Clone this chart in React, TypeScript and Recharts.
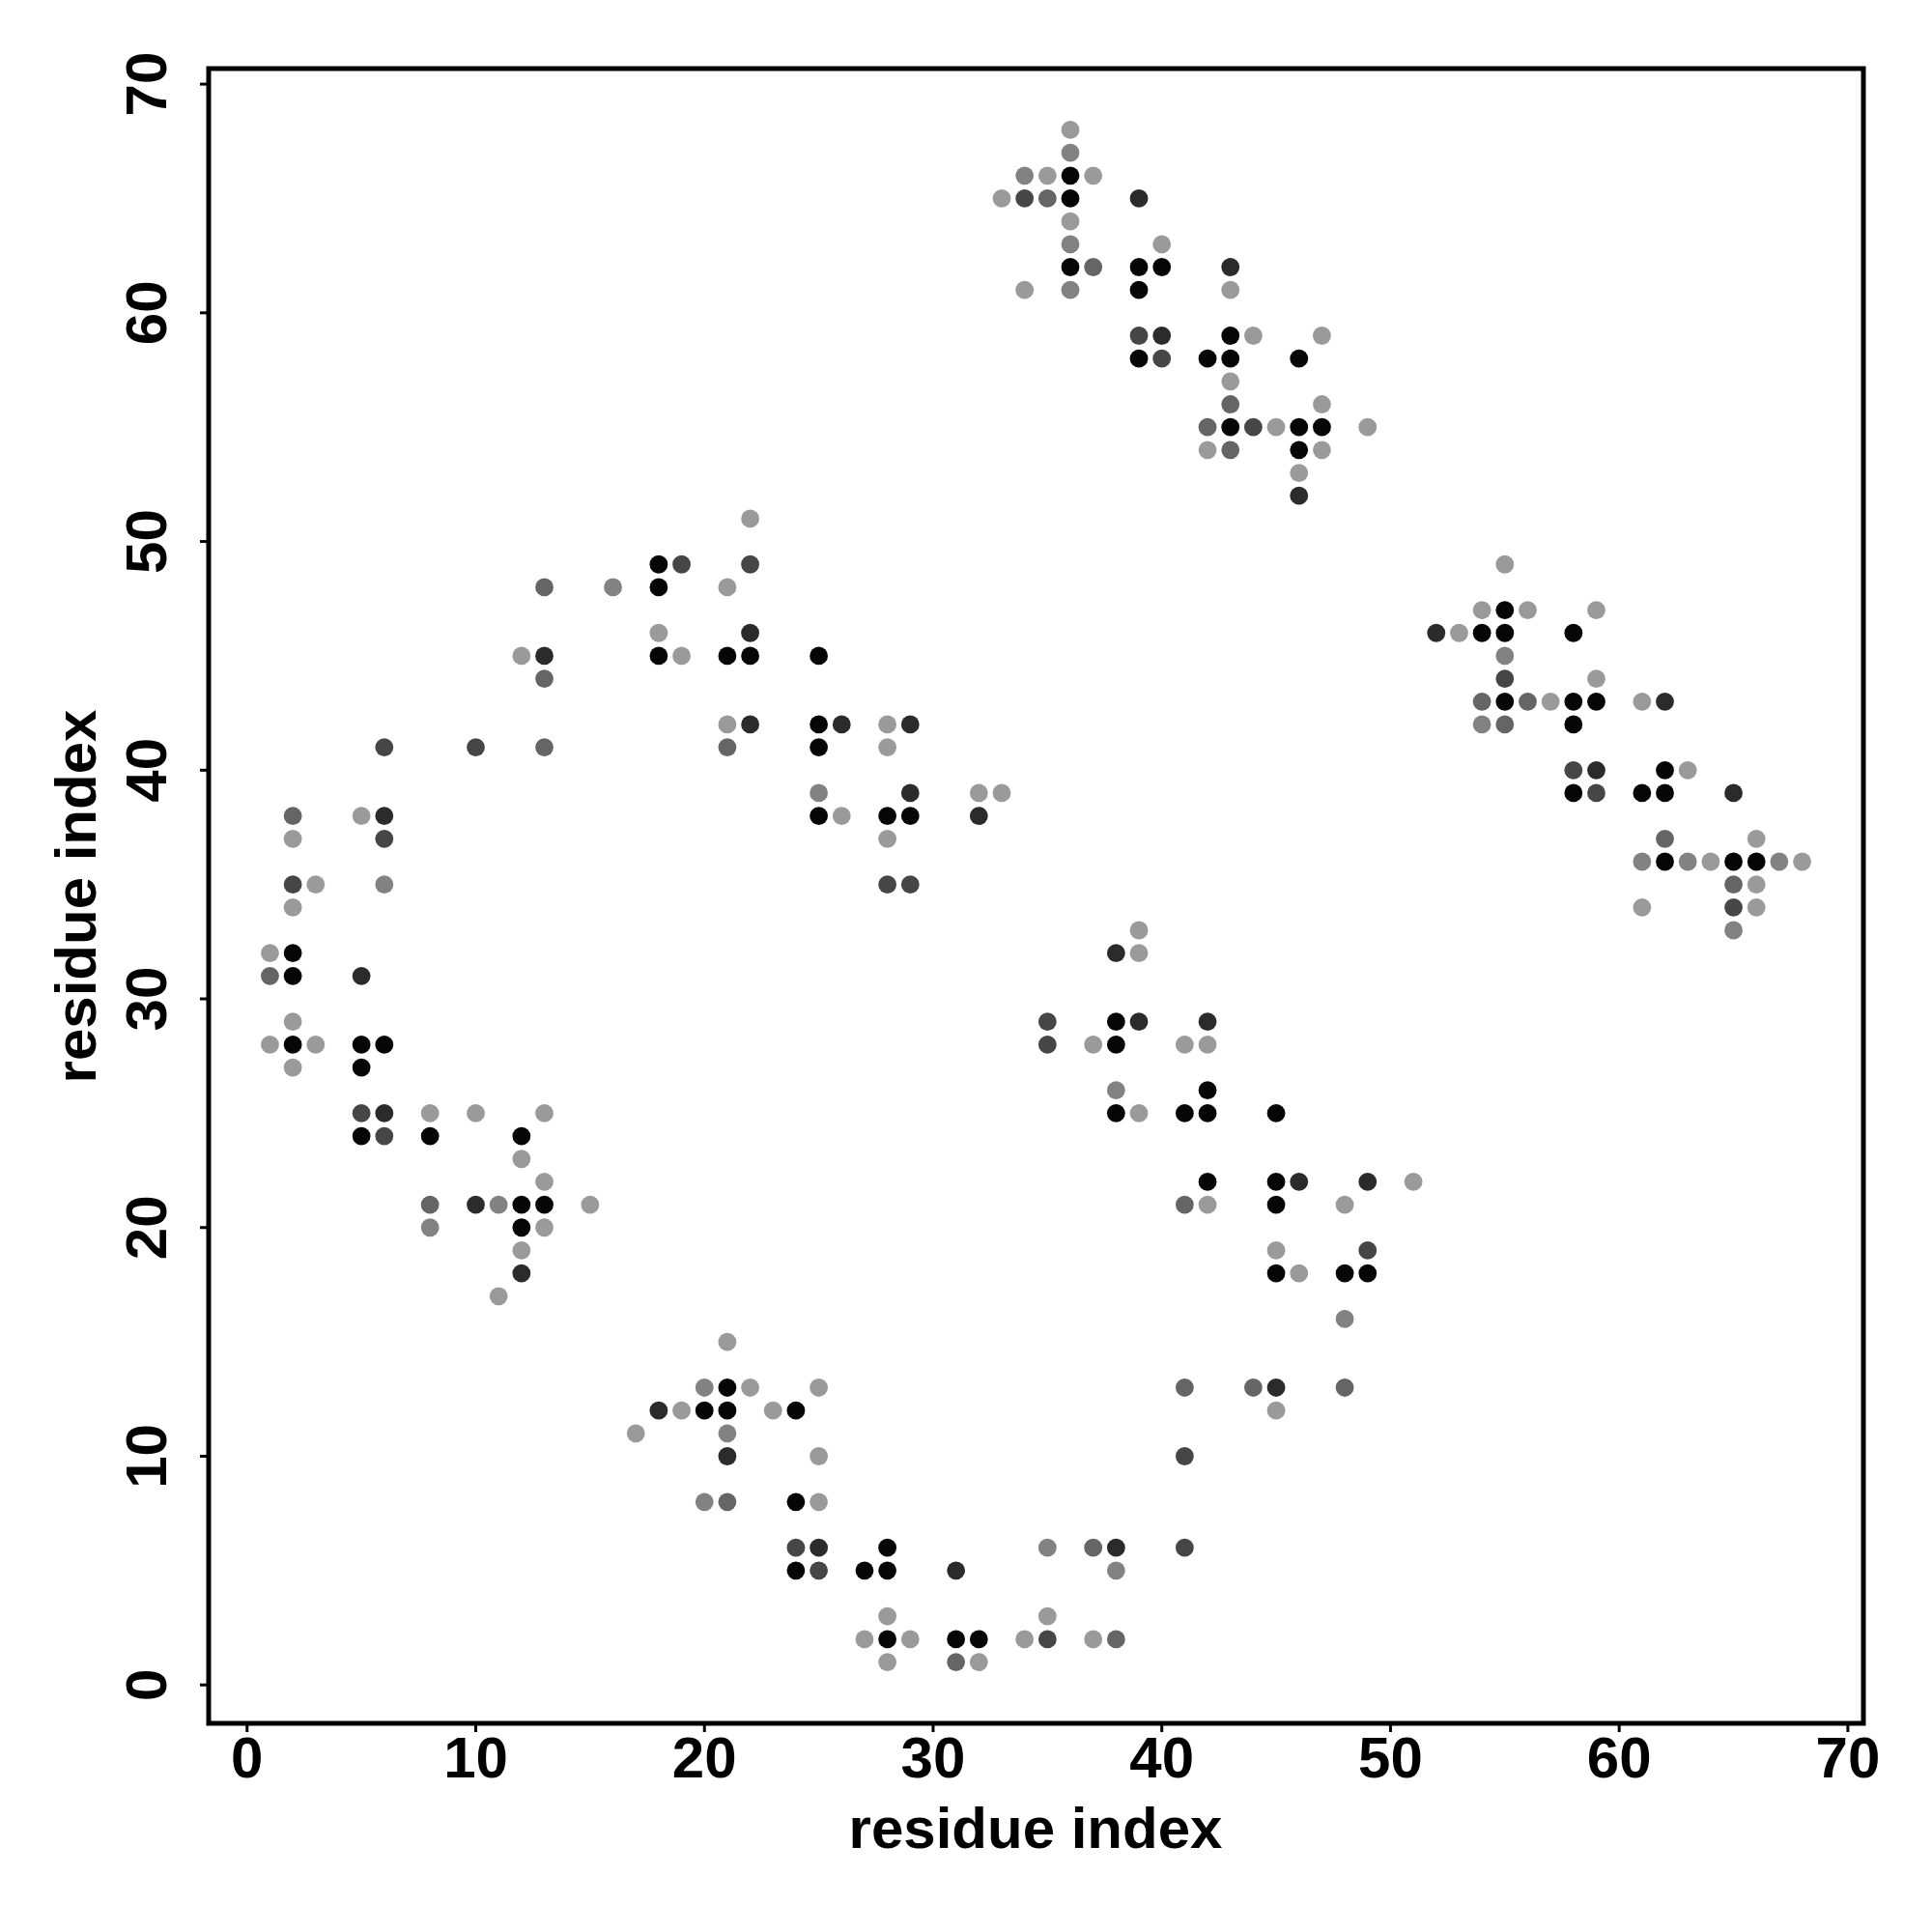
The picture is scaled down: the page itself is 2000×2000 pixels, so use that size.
import React from 'react';
import { ScatterChart, Scatter, XAxis, YAxis, ReferenceArea } from 'recharts';

// ---- tick labels / titles ----
const xTicks = [0, 10, 20, 30, 40, 50, 60, 70];
const yTicks = [0, 10, 20, 30, 40, 50, 60, 70];
const xTitle = 'residue index';
const yTitle = 'residue index';
const axisDomain: [number, number] = [-1.68, 70.68];

// ---- contact points grouped by grey level [residue i, residue j] ----
const blackPts: [number, number][] = [
  [2, 32], [2, 31], [2, 28], [5, 28], [6, 28], [5, 27], [5, 24], [8, 24], [12, 24],
  [12, 21], [13, 21], [12, 20],
  [18, 49], [18, 48], [18, 45], [21, 45], [22, 45], [25, 45], [25, 42], [25, 41],
  [25, 38], [28, 38], [29, 38],
  [21, 13], [20, 12], [21, 12], [24, 12], [24, 8], [28, 6], [24, 5], [27, 5], [28, 5],
  [28, 2], [31, 2], [32, 2],
  [38, 29], [38, 28], [42, 26], [38, 25], [41, 25], [42, 25], [45, 25], [42, 22], [45, 22],
  [45, 21], [45, 18], [48, 18], [49, 18],
  [36, 66], [36, 65], [36, 62], [39, 62], [40, 62], [39, 61], [43, 59], [39, 58], [42, 58],
  [43, 58], [46, 58], [43, 55], [46, 55], [47, 55], [46, 54],
  [55, 47], [54, 46], [55, 46], [58, 46], [55, 43], [58, 43], [59, 43], [58, 42], [62, 40],
  [58, 39], [61, 39], [62, 39], [62, 36], [65, 36], [66, 36],
];
const veryDarkPts: [number, number][] = [
  [6, 38], [5, 31], [6, 25], [10, 21], [12, 18],
  [22, 46], [13, 45], [22, 42], [26, 42], [29, 42], [29, 39], [32, 38],
  [18, 12], [21, 10], [25, 6], [38, 6], [31, 5],
  [38, 32], [39, 29], [42, 29], [46, 22], [49, 22], [45, 13],
  [39, 65], [43, 62], [40, 59], [46, 52],
  [52, 46], [62, 43], [59, 40], [65, 39],
];
const darkPts: [number, number][] = [
  [6, 41], [10, 41], [6, 37], [2, 35], [5, 25], [6, 24],
  [19, 49], [22, 49], [28, 35], [29, 35],
  [24, 6], [25, 5], [35, 2], [41, 10], [41, 6],
  [35, 29], [35, 28], [49, 19],
  [34, 65], [39, 59], [40, 58], [44, 55],
  [55, 44], [58, 40], [59, 39], [65, 34],
];
const midPts: [number, number][] = [
  [13, 41], [2, 38], [1, 31], [8, 21],
  [13, 48], [13, 44], [21, 41],
  [21, 8], [37, 6], [38, 2], [31, 1],
  [41, 21], [41, 13], [44, 13], [48, 13],
  [35, 65], [37, 62], [43, 56], [42, 55], [43, 54],
  [54, 43], [56, 43], [55, 42], [62, 37], [65, 35],
];
const midLightPts: [number, number][] = [
  [6, 35], [11, 21], [8, 20],
  [16, 48], [25, 39],
  [20, 13], [21, 11], [20, 8], [35, 6], [38, 5],
  [38, 26], [48, 16],
  [36, 67], [34, 66], [36, 63], [36, 61],
  [55, 45], [54, 42], [61, 36], [63, 36], [67, 36], [65, 33],
];
const lightPts: [number, number][] = [
  [5, 38], [2, 37], [3, 35], [2, 34], [1, 32], [2, 29], [1, 28], [3, 28], [2, 27],
  [8, 25], [10, 25], [13, 25], [12, 23], [13, 22], [15, 21], [13, 20], [12, 19], [11, 17],
  [22, 51], [21, 48], [18, 46], [12, 45], [19, 45], [21, 42], [28, 42], [28, 41],
  [32, 39], [33, 39], [26, 38], [28, 37],
  [21, 15], [22, 13], [25, 13], [19, 12], [23, 12], [17, 11], [25, 10], [25, 8],
  [28, 3], [35, 3], [27, 2], [29, 2], [34, 2], [37, 2], [28, 1], [32, 1],
  [39, 33], [39, 32], [37, 28], [41, 28], [42, 28], [39, 25], [51, 22], [42, 21], [48, 21],
  [45, 19], [46, 18], [45, 12],
  [36, 68], [35, 66], [37, 66], [33, 65], [36, 64], [40, 63], [34, 61], [43, 61],
  [44, 59], [47, 59], [43, 57], [47, 56], [45, 55], [49, 55], [42, 54], [47, 54], [46, 53],
  [55, 49], [54, 47], [56, 47], [59, 47], [53, 46], [59, 44], [57, 43], [61, 43], [63, 40],
  [66, 37], [64, 36], [68, 36], [66, 35], [61, 34], [66, 34],
];

const shadeColors = ['#060606', '#2b2b2b', '#464646', '#656565', '#828282', '#9a9a9a'];
const shadeGroups = [blackPts, veryDarkPts, darkPts, midPts, midLightPts, lightPts];

const FONT = '"Liberation Sans", Arial, Helvetica, sans-serif';

const makeDot = (color: string) => (props: any) => {
  const { cx, cy } = props;
  if (cx == null || cy == null) return <g />;
  return <circle cx={cx} cy={cy} r={9.4} fill={color} />;
};

const XTick = (props: any) => {
  const { x, payload } = props;
  return (
    <text x={x} y={1840} textAnchor="middle" fontFamily={FONT} fontWeight="bold" fontSize={60} fill="#000">
      {payload.value}
    </text>
  );
};

const YTick = (props: any) => {
  const { y, payload } = props;
  const bx = 172;
  return (
    <text x={bx} y={y} transform={`rotate(-90 ${bx} ${y})`} textAnchor="middle" fontFamily={FONT} fontWeight="bold" fontSize={60} fill="#000">
      {payload.value}
    </text>
  );
};

const XTitle = () => (
  <text x={1072} y={1913} textAnchor="middle" fontFamily={FONT} fontWeight="bold" fontSize={60} fill="#000">
    {xTitle}
  </text>
);

const YTitle = () => (
  <text x={99} y={928} transform="rotate(-90 99 928)" textAnchor="middle" fontFamily={FONT} fontWeight="bold" fontSize={60} fill="#000">
    {yTitle}
  </text>
);

export default function App() {
  return (
    <div style={{ position: 'absolute', left: 0, top: 0, background: '#fff' }}>
      <ScatterChart width={2000} height={2000} margin={{ top: 71, right: 71, bottom: 116, left: 116 }}>
        <XAxis
          type="number"
          dataKey="x"
          domain={axisDomain}
          ticks={xTicks}
          allowDataOverflow
          height={100}
          axisLine={false}
          tickLine={{ stroke: '#000', strokeWidth: 3 }}
          tickSize={9}
          tick={<XTick />}
          interval={0}
          label={<XTitle />}
        />
        <YAxis
          type="number"
          dataKey="y"
          domain={axisDomain}
          ticks={yTicks}
          allowDataOverflow
          width={100}
          axisLine={false}
          tickLine={{ stroke: '#000', strokeWidth: 3 }}
          tickSize={9}
          tick={<YTick />}
          interval={0}
          label={<YTitle />}
        />
        <ReferenceArea
          x1={axisDomain[0]}
          x2={axisDomain[1]}
          y1={axisDomain[0]}
          y2={axisDomain[1]}
          fill="none"
          fillOpacity={0}
          stroke="#000"
          strokeWidth={5}
          strokeOpacity={1}
          ifOverflow="visible"
        />
        {shadeGroups.map((pts, i) => (
          <Scatter
            key={i}
            data={pts.map(([x, y]) => ({ x, y }))}
            fill={shadeColors[i]}
            shape={makeDot(shadeColors[i])}
            isAnimationActive={false}
          />
        ))}
      </ScatterChart>
    </div>
  );
}
